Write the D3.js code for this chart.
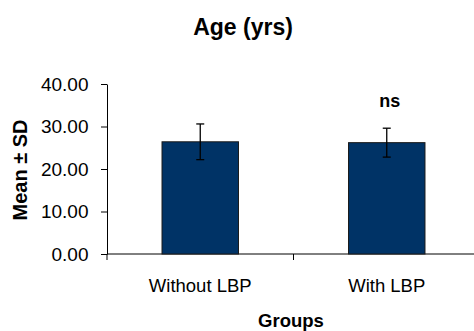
<!DOCTYPE html>
<html>
<head>
<meta charset="utf-8">
<script src="https://cdn.jsdelivr.net/npm/d3@7"></script>
<style>
  body { margin: 0; background: #fff; }
  text { font-family: "Liberation Sans", Arial, sans-serif; }
</style>
</head>
<body>
<script>
// data
const groups = ['Without LBP', 'With LBP'];
const means = [26.4, 26.2];
const sds = [4.2, 3.4];
const yTicks = [0, 10, 20, 30, 40];
const notes = ['', 'ns'];

const svgWid = 474, svgHt = 331;
const margin = {top: 84, right: -6, bottom: 77, left: 107};
const innerW = svgWid - margin.left - margin.right;
const innerH = svgHt - margin.top - margin.bottom;

const svg = d3.select('body').append('svg').attr('width', svgWid).attr('height', svgHt);
const g = svg.append('g').attr('transform', `translate(${margin.left},${margin.top})`);

const x = d3.scaleBand().domain(groups).range([0, innerW]).paddingInner(0).paddingOuter(0);
const y = d3.scaleLinear().domain([0, 40]).range([innerH, 0]);

// y axis
const yAxisG = g.append('g').call(d3.axisLeft(y).tickValues(yTicks).tickFormat(d3.format('.2f')).tickSize(6).tickSizeOuter(0));
yAxisG.select('.domain').attr('stroke', '#000');
yAxisG.selectAll('.tick line').attr('stroke', '#000');
yAxisG.selectAll('.tick text').attr('font-size', 19).attr('fill', '#000').attr('x', -18.5)
  .attr('font-family', '"Liberation Sans", Arial, sans-serif');

// x axis: ticks between categories
const xAxisG = g.append('g').attr('transform', `translate(0,${innerH})`);
xAxisG.append('line').attr('x1', 0).attr('x2', innerW).attr('stroke', '#000');
xAxisG.selectAll('.sep').data(groups).enter().append('line')
  .attr('x1', d => x(d)).attr('x2', d => x(d)).attr('y1', 0).attr('y2', 6).attr('stroke', '#000');
xAxisG.selectAll('.lbl').data(groups).enter().append('text')
  .attr('x', d => x(d) + x.bandwidth() / 2).attr('y', 38)
  .attr('text-anchor', 'middle').attr('font-size', 18.5).text(d => d);

// bars
const barW = x.bandwidth() * 0.41;
g.selectAll('rect.bar').data(groups).enter().append('rect')
  .attr('x', d => x(d) + x.bandwidth() / 2 - barW / 2)
  .attr('y', (d, i) => y(means[i]))
  .attr('width', barW)
  .attr('height', (d, i) => innerH - y(means[i]))
  .attr('fill', '#003366').attr('stroke', '#1a1a1a').attr('stroke-width', 1);

// error bars
const eb = g.selectAll('g.err').data(groups).enter().append('g')
  .attr('transform', d => `translate(${x(d) + x.bandwidth() / 2},0)`);
eb.append('line').attr('y1', (d, i) => y(means[i] + sds[i])).attr('y2', (d, i) => y(means[i] - sds[i]))
  .attr('stroke', '#000').attr('stroke-width', 1.3);
eb.append('line').attr('x1', -4).attr('x2', 4).attr('y1', (d, i) => y(means[i] + sds[i])).attr('y2', (d, i) => y(means[i] + sds[i]))
  .attr('stroke', '#000').attr('stroke-width', 1.3);
eb.append('line').attr('x1', -4).attr('x2', 4).attr('y1', (d, i) => y(means[i] - sds[i])).attr('y2', (d, i) => y(means[i] - sds[i]))
  .attr('stroke', '#000').attr('stroke-width', 1.3);

// significance notes
g.selectAll('text.note').data(groups).enter().append('text')
  .attr('x', d => x(d) + x.bandwidth() / 2 + 3).attr('y', 23)
  .attr('text-anchor', 'middle').attr('font-size', 18).attr('font-weight', 'bold')
  .text((d, i) => notes[i]);

// titles
svg.append('text').attr('x', 243).attr('y', 35).attr('text-anchor', 'middle')
  .attr('font-size', 23).attr('font-weight', 'bold').text('Age (yrs)');
svg.append('text').attr('x', 291).attr('y', 327).attr('text-anchor', 'middle')
  .attr('font-size', 18.5).attr('font-weight', 'bold').text('Groups');
svg.append('text').attr('transform', `translate(27,170) rotate(-90)`)
  .attr('text-anchor', 'middle').attr('font-size', 20).attr('font-weight', 'bold').text('Mean ± SD');
</script>
</body>
</html>
